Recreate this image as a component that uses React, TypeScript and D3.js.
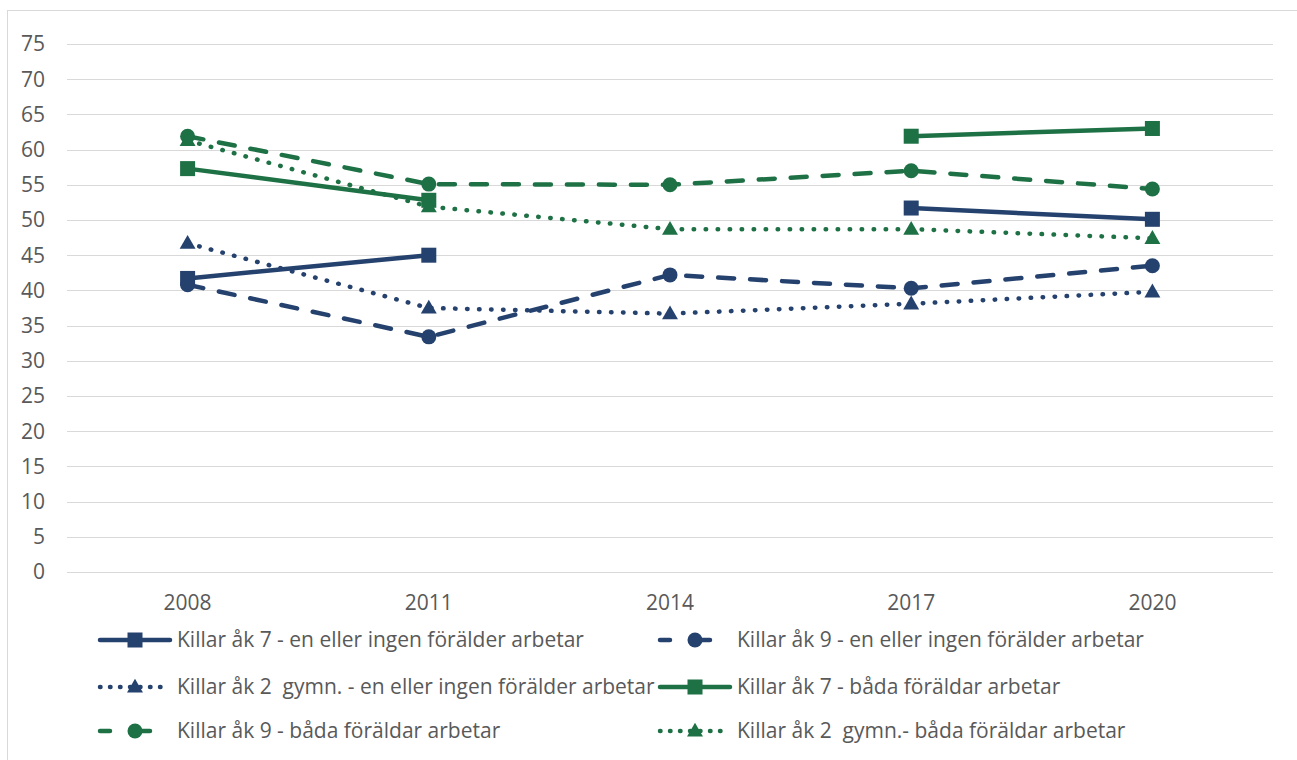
import React from "react";
import * as d3 from "d3";

const years = ["2008", "2011", "2014", "2017", "2020"];
const yTicks = [0, 5, 10, 15, 20, 25, 30, 35, 40, 45, 50, 55, 60, 65, 70, 75];

const ak7En = [41.7, 45.0, null, 51.7, 50.1];
const ak9En = [40.8, 33.4, 42.2, 40.3, 43.5];
const ak2En = [46.7, 37.5, 36.7, 38.1, 39.8];
const ak7Bada = [57.3, 52.8, null, 61.9, 63.0];
const ak9Bada = [61.9, 55.1, 55.0, 57.0, 54.4];
const ak2Bada = [61.3, 51.9, 48.7, 48.7, 47.4];

const NAVY = "#25426f";
const GREEN = "#1e7145";

type Style = "solid" | "dash" | "dot";
type Marker = "square" | "circle" | "triangle";

const series: { name: string; values: (number | null)[]; color: string; style: Style; marker: Marker }[] = [
  { name: "Killar åk 7 - en eller ingen förälder arbetar", values: ak7En, color: NAVY, style: "solid", marker: "square" },
  { name: "Killar åk 9 - en eller ingen förälder arbetar", values: ak9En, color: NAVY, style: "dash", marker: "circle" },
  { name: "Killar åk 2  gymn. - en eller ingen förälder arbetar", values: ak2En, color: NAVY, style: "dot", marker: "triangle" },
  { name: "Killar åk 7 - båda föräldar arbetar", values: ak7Bada, color: GREEN, style: "solid", marker: "square" },
  { name: "Killar åk 9 - båda föräldar arbetar", values: ak9Bada, color: GREEN, style: "dash", marker: "circle" },
  { name: "Killar åk 2  gymn.- båda föräldar arbetar", values: ak2Bada, color: GREEN, style: "dot", marker: "triangle" },
];

const W = 1297;
const H = 760;
const FONT = "'Open Sans', 'Noto Sans', sans-serif";
const TEXT = "#595959";
const FS = 21;

const dashFor = (s: Style) => (s === "dash" ? "16 16" : s === "dot" ? "0.5 11.5" : undefined);
const capFor = (s: Style) => (s === "solid" ? "butt" : "round");

const MarkerShape = ({ type, x, y, color }: { type: Marker; x: number; y: number; color: string }) => {
  if (type === "square") return <rect x={x - 7.5} y={y - 7.5} width={15} height={15} fill={color} />;
  if (type === "circle") return <circle cx={x} cy={y} r={7.5} fill={color} />;
  const sym = d3.symbol(d3.symbolTriangle, 110)();
  return <path d={sym || ""} transform={`translate(${x},${y + 1})`} fill={color} />;
};

export default function App() {
  const x = d3.scaleBand().domain(years).range([67, 1273]);
  const y = d3.scaleLinear().domain([0, 75]).range([572, 44]);
  const cx = (yr: string) => (x(yr) as number) + x.bandwidth() / 2;

  const line = d3
    .line<number | null>()
    .defined((d) => d != null)
    .x((_, i) => cx(years[i]))
    .y((d) => y(d as number));

  const legendCols = [100, 660];
  const legendRows = [640, 687, 731];

  return (
    <div>
      <style>{"body{margin:0}"}</style>
      <svg width={W} height={H} style={{ display: "block", fontFamily: FONT }}>
        <rect x={0} y={0} width={W} height={H} fill="#fff" />
        <rect x={7.5} y={10.5} width={W + 10} height={H + 10} fill="none" stroke="#d9d9d9" strokeWidth={1} />

        {yTicks.map((t) => (
          <g key={t}>
            <line x1={67} x2={1273} y1={Math.round(y(t)) + 0.5} y2={Math.round(y(t)) + 0.5} stroke="#d9d9d9" strokeWidth={1} />
            <text x={45} y={y(t)} dy="0.35em" textAnchor="end" fontSize={FS} fill={TEXT}>
              {t}
            </text>
          </g>
        ))}

        {years.map((yr) => (
          <text key={yr} x={cx(yr)} y={603} dy="0.35em" textAnchor="middle" fontSize={FS} fill={TEXT}>
            {yr}
          </text>
        ))}

        {series.map((s) => (
          <g key={s.name}>
            <path
              d={line(s.values) || ""}
              fill="none"
              stroke={s.color}
              strokeWidth={4.5}
              strokeDasharray={dashFor(s.style)}
              strokeLinecap={capFor(s.style)}
              strokeLinejoin="round"
            />
            {s.values.map((v, i) =>
              v == null ? null : <MarkerShape key={i} type={s.marker} x={cx(years[i])} y={y(v)} color={s.color} />
            )}
          </g>
        ))}

        {series.map((s, i) => {
          const lx = legendCols[i % 2];
          const ly = legendRows[Math.floor(i / 2)];
          return (
            <g key={"lg" + i}>
              <line
                x1={lx}
                x2={lx + 70}
                y1={ly}
                y2={ly}
                stroke={s.color}
                strokeWidth={4.5}
                strokeDasharray={s.style === "dash" ? "10 30" : s.style === "dot" ? "0.5 9.5" : undefined}
                strokeLinecap="round"
              />
              <MarkerShape type={s.marker} x={lx + 35} y={ly} color={s.color} />
              <text x={lx + 77} y={ly} dy="0.35em" fontSize={FS} fill={TEXT} style={{ whiteSpace: "pre" }}>
                {s.name}
              </text>
            </g>
          );
        })}
      </svg>
    </div>
  );
}
